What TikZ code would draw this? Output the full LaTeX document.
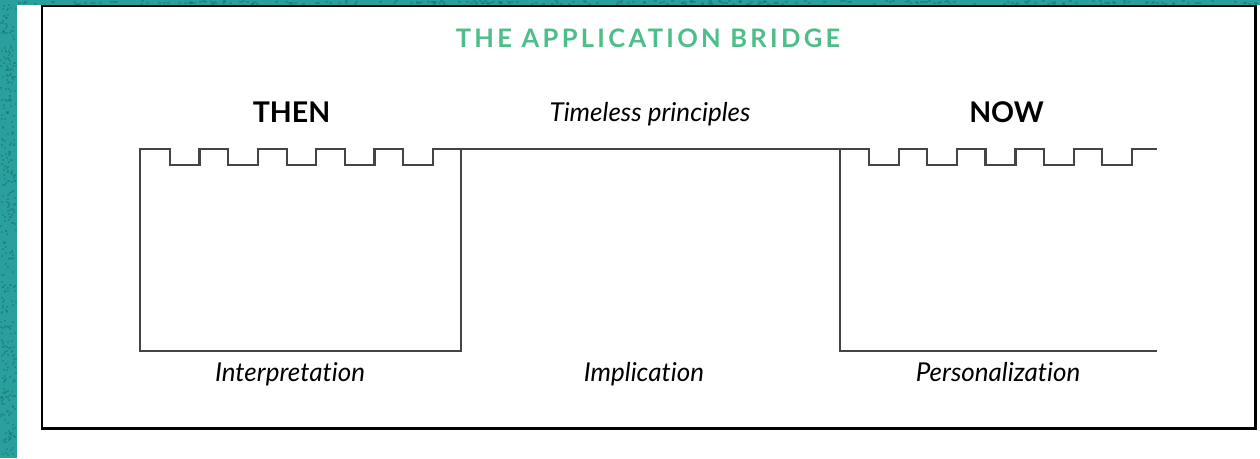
\documentclass[tikz,border=0pt]{standalone}
\usepackage{fontspec}
\setmainfont{Lato}[Ligatures=NoCommon]
\usetikzlibrary{positioning}
\definecolor{sea}{RGB}{42,160,158}
\definecolor{seadark}{RGB}{24,120,118}
\definecolor{bridgegreen}{RGB}{77,189,138}
\definecolor{wallgray}{RGB}{68,68,68}

\begin{document}
\begin{tikzpicture}[x=1pt,y=-1pt,
  wall/.style={draw=wallgray,line width=2.2pt},
  side/.style={inner sep=0pt,anchor=base,font=\fontsize{28.5}{32}\selectfont\bfseries},
  lbl/.style={inner sep=0pt,anchor=base,font=\fontsize{26}{30}\selectfont\itshape}]
\useasboundingbox (0,0) rectangle (1260,458);
\fill[sea] (0,0) rectangle (1260,5);
\fill[sea] (0,0) rectangle (17,458);
% some grain in the border
\pgfmathsetseed{7}
\foreach \k in {1,...,350}{
  \pgfmathsetmacro\px{rnd*15}
  \pgfmathsetmacro\py{rnd*454}
  \fill[seadark,opacity=.5] (\px,\py) rectangle ++(2,2);
}
\foreach \k in {1,...,250}{
  \pgfmathsetmacro\px{17+rnd*1240}
  \pgfmathsetmacro\py{rnd*3}
  \fill[seadark,opacity=.5] (\px,\py) rectangle ++(3,2);
}
\draw[black,line width=2.5pt] (42,6) rectangle (1255.5,428.5);
\node[inner sep=0pt,anchor=base,text=bridgegreen,font=\fontsize{25.5}{30}\selectfont\bfseries\addfontfeatures{LetterSpace=13}] (title) at (648,47) {THE APPLICATION BRIDGE};
% then side
\draw[wall] (140,351) -- (140,149)
  \foreach \i in {0,...,4}{ -- ({170+58.3*\i},149) -- ({170+58.3*\i},165) -- ({199.5+58.3*\i},165) -- ({199.5+58.3*\i},149)}
  -- (461,149) -- (461,351) -- cycle;
% the bridge
\draw[wall] (461,149) -- (840,149);
% now side
\draw[wall] (1157,351) -- (840,351) -- (840,149)
  \foreach \i in {0,...,4}{ -- ({869+58.2*\i},149) -- ({869+58.2*\i},165) -- ({899+58.2*\i},165) -- ({899+58.2*\i},149)}
  -- (1157,149);
\node[side] (then) at (291.5,122) {THEN};
\node[side] (now) at (1006.5,122) {NOW};
\node[lbl] (timeless) at (650,121) {Timeless principles};
\node[lbl] (interp) at (290,381) {Interpretation};
\node[lbl] (implic) at (644,381) {Implication};
\node[lbl] (person) at (998,381) {Personalization};
\end{tikzpicture}
\end{document}
